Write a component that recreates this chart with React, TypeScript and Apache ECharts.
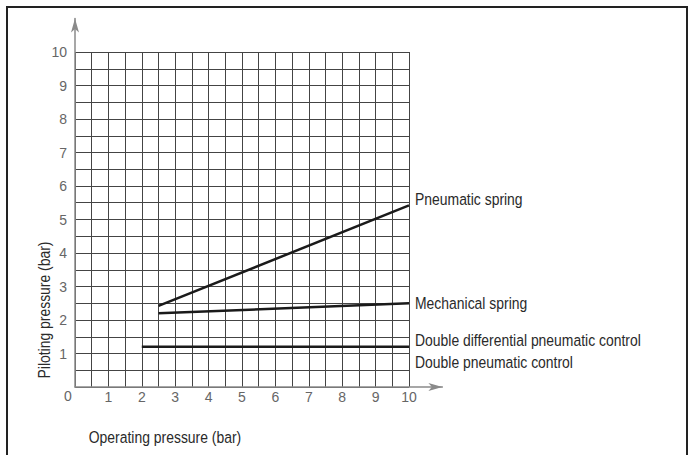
import React, { useEffect, useRef } from "react";
import * as echarts from "echarts";

const xTicks = [0, 1, 2, 3, 4, 5, 6, 7, 8, 9, 10];
const yTicks = [1, 2, 3, 4, 5, 6, 7, 8, 9, 10];
const pneumaticSpring: [number, number][] = [[2.5, 2.42], [10, 5.42]];
const mechanicalSpring: [number, number][] = [[2.5, 2.2], [10, 2.5]];
const doubleControl: [number, number][] = [[2, 1.2], [10, 1.2]];
const seriesNames = ["Pneumatic spring", "Mechanical spring", "Double differential pneumatic control", "Double pneumatic control"];

const FONT = "'Liberation Sans', Arial, sans-serif";
const NARROW = 0.82;

export default function App() {
  const ref = useRef<HTMLDivElement>(null);
  useEffect(() => {
    if (!ref.current) return;
    const chart = echarts.init(ref.current, null, { renderer: "svg" });
    const left = 75, bottom = 387, unitX = 33.4, unitY = 33.5;
    const lineStyle = { color: "#1a1a1a", width: 2.5 };
    const mk = (name: string, data: [number, number][]) => ({
      type: "line", name, data, xAxisIndex: 0, yAxisIndex: 0, symbol: "none", lineStyle,
    });
    const axisArrow = {
      show: true, symbol: ["none", "arrow"], symbolSize: [6, 14],
      lineStyle: { color: "#8a8a8a", width: 1.5 },
    };
    chart.setOption({
      animation: false,
      backgroundColor: "#fff",
      grid: [
        { left, top: bottom - 10 * unitY, width: 10 * unitX, height: 10 * unitY },
        { left, top: bottom - 11 * unitY, width: 11 * unitX, height: 11 * unitY },
      ],
      xAxis: [
        {
          type: "value", gridIndex: 0, min: 0, max: 10, interval: 0.5,
          axisLine: { show: false }, axisTick: { show: false },
          splitLine: { show: true, lineStyle: { color: "#444", width: 1 } },
          axisLabel: {
            margin: 3, color: "#666", fontSize: 14, fontFamily: FONT,
            formatter: (v: number) => (Number.isInteger(v) && v !== 0 && xTicks.includes(v) ? String(v) : ""),
          },
        },
        {
          type: "value", gridIndex: 1, min: 0, max: 11,
          axisLine: axisArrow, axisTick: { show: false }, axisLabel: { show: false }, splitLine: { show: false },
        },
      ],
      yAxis: [
        {
          type: "value", gridIndex: 0, min: 0, max: 10, interval: 0.5,
          axisLine: { show: false }, axisTick: { show: false },
          splitLine: { show: true, lineStyle: { color: "#444", width: 1 } },
          axisLabel: {
            margin: 8, color: "#666", fontSize: 14, fontFamily: FONT,
            formatter: (v: number) => (Number.isInteger(v) && yTicks.includes(v) ? String(v) : ""),
          },
        },
        {
          type: "value", gridIndex: 1, min: 0, max: 11,
          axisLine: axisArrow, axisTick: { show: false }, axisLabel: { show: false }, splitLine: { show: false },
        },
      ],
      series: [
        mk(seriesNames[0], pneumaticSpring),
        mk(seriesNames[1], mechanicalSpring),
        mk(seriesNames[2], doubleControl),
      ],
    });
    const endPx = (d: [number, number][]) =>
      chart.convertToPixel({ xAxisIndex: 0, yAxisIndex: 0 }, d[d.length - 1]) as number[];
    const p = endPx(pneumaticSpring);
    const m = endPx(mechanicalSpring);
    const dc = endPx(doubleControl);
    const lbl = (text: string, x: number, y: number) => ({
      type: "text", x, y, scaleX: NARROW,
      style: { text, fill: "#2a2a2a", fontSize: 17, fontFamily: FONT, align: "left", verticalAlign: "middle" },
    });
    const origin = chart.convertToPixel({ xAxisIndex: 0, yAxisIndex: 0 }, [0, 0]) as number[];
    chart.setOption({
      graphic: [
        { type: "rect", shape: { x: 7, y: 7, width: 680, height: 470 }, style: { fill: "none", stroke: "#222", lineWidth: 2 }, silent: true },
        { type: "text", x: origin[0] - 7, y: origin[1] + 9, style: { text: "0", fill: "#666", fontSize: 14, fontFamily: FONT, align: "center", verticalAlign: "middle" } },
        lbl(seriesNames[0], p[0] + 6, p[1] - 6),
        lbl(seriesNames[1], m[0] + 6, m[1]),
        lbl(seriesNames[2], dc[0] + 6, dc[1] - 7),
        lbl(seriesNames[3], dc[0] + 6, dc[1] + 15),
        { type: "text", x: 165, y: 437, scaleX: NARROW, style: { text: "Operating pressure (bar)", fill: "#2a2a2a", fontSize: 17, fontFamily: FONT, align: "center", verticalAlign: "middle" } },
        { type: "text", x: 44, y: 310, rotation: Math.PI / 2, scaleX: NARROW, style: { text: "Piloting pressure (bar)", fill: "#2a2a2a", fontSize: 17, fontFamily: FONT, align: "center", verticalAlign: "middle" } },
      ],
    });
    return () => chart.dispose();
  }, []);
  return <div ref={ref} style={{ position: "fixed", left: 0, top: 0, width: 691, height: 455 }} />;
}
